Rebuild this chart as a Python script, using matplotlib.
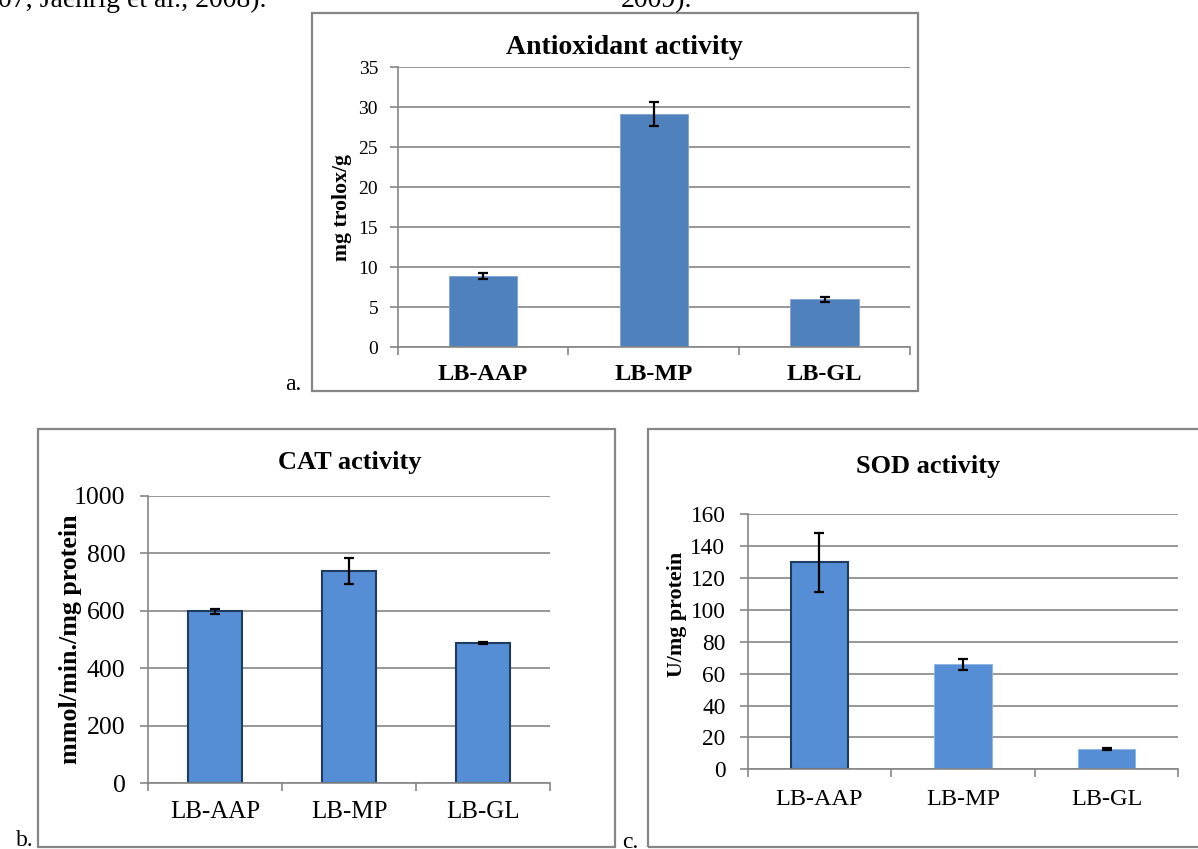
import matplotlib
matplotlib.use('Agg')
import matplotlib.pyplot as plt
from matplotlib.patches import Rectangle

W, H = 1198, 849

categories = ['LB-AAP', 'LB-MP', 'LB-GL']

antiox_values = [8.9, 29.1, 6.0]
antiox_errors = [0.4, 1.5, 0.35]
antiox_ticks = [0, 5, 10, 15, 20, 25, 30, 35]

cat_values = [598, 740, 489]
cat_errors = [10, 45, 4]
cat_ticks = [0, 200, 400, 600, 800, 1000]

sod_values = [130, 66, 12.6]
sod_errors = [18.5, 3.4, 0.7]
sod_ticks = [0, 20, 40, 60, 80, 100, 120, 140, 160]

plt.rcParams['font.family'] = ['Liberation Serif', 'DejaVu Serif']

GRAY = '#868686'

fig = plt.figure(figsize=(W / 100, H / 100), dpi=100)


def px_axes(left, top, right, bottom):
    return fig.add_axes([left / W, 1 - bottom / H, (right - left) / W, (bottom - top) / H])


def box(left, top, right, bottom):
    fig.add_artist(Rectangle((left / W, 1 - bottom / H), (right - left) / W, (bottom - top) / H,
                             transform=fig.transFigure, fill=False, edgecolor=GRAY, linewidth=1.6))


def ftext(x, y, s, **kw):
    fig.text(x / W, 1 - y / H, s, **kw)


def style(ax, ylim, yticks, ytick_fs, xlab_fs, xlab_weight, xpad, ypad):
    ax.set_xlim(-0.5, 2.5)
    ax.set_ylim(*ylim)
    ax.set_yticks(yticks)
    ax.set_xticks(range(len(categories)))
    ax.set_xticklabels(categories, fontsize=xlab_fs, fontweight=xlab_weight)
    ax.set_xticks([-0.5, 0.5, 1.5, 2.5], minor=True)
    ax.tick_params(axis='x', which='major', length=0, pad=xpad)
    ax.tick_params(axis='x', which='minor', length=6, width=1.2, color=GRAY, direction='out')
    ax.tick_params(axis='y', length=6, width=1.2, color=GRAY, labelsize=ytick_fs, pad=ypad)
    for s in ['top', 'right']:
        ax.spines[s].set_visible(False)
    for s in ['left', 'bottom']:
        ax.spines[s].set_color(GRAY)
        ax.spines[s].set_linewidth(1.2)
    ax.grid(axis='y', color=GRAY, linewidth=1.2)
    ax.set_axisbelow(True)
    ax.patch.set_alpha(0)


# ---------------- Panel a ----------------
box(312, 13, 918, 391)
axa = px_axes(397.5, 67.3, 910, 347.3)
axa.bar(range(3), antiox_values, width=0.4, color='#4F81BD', edgecolor='#7FA3D0', linewidth=0.6,
        yerr=antiox_errors, error_kw=dict(ecolor='black', elinewidth=1.6, capsize=3.5, capthick=1.6))
style(axa, (0, 35), antiox_ticks, 14, 17.5, 'bold', 11.8, 8)
axa.set_ylabel('mg trolox/g', fontsize=15.7, fontweight='bold', va='center')
axa.yaxis.set_label_coords((342.5 - 397.5) / (910 - 397.5), 0.5)
ftext(624, 47, 'Antioxidant activity', fontsize=20, fontweight='bold', ha='center', va='center')
ftext(285, 390, 'a.', fontsize=17, ha='left', va='baseline')

# ---------------- Panel b ----------------
box(38, 429.3, 615, 847)
axb = px_axes(147.7, 496, 550.3, 783.3)
axb.bar(range(3), cat_values, width=0.4, color='#558ED5', edgecolor='#1F3B60', linewidth=1.5,
        yerr=cat_errors, error_kw=dict(ecolor='black', elinewidth=1.6, capsize=3.5, capthick=1.6))
style(axb, (0, 1000), cat_ticks, 18.5, 18, 'normal', 12.6, 10)
axb.set_ylabel('mmol/min./mg protein', fontsize=18.7, fontweight='bold', va='center')
axb.yaxis.set_label_coords((70 - 147.7) / (550.3 - 147.7), 0.5)
ftext(350, 462, 'CAT activity', fontsize=19, fontweight='bold', ha='center', va='center')
ftext(16, 846, 'b.', fontsize=17, ha='left', va='baseline')

# ---------------- Panel c ----------------
box(648.3, 429.3, 1210, 847)
axc = px_axes(747.7, 514.3, 1178.3, 769.3)
bars = axc.bar(range(3), sod_values, width=0.4, color='#558ED5', edgecolor='#8DB3E2', linewidth=0.6,
               yerr=sod_errors, error_kw=dict(ecolor='black', elinewidth=1.6, capsize=3.5, capthick=1.6))
bars[0].set_edgecolor('#1F3B60')
bars[0].set_linewidth(1.5)
style(axc, (0, 160), sod_ticks, 16.8, 17.5, 'normal', 14, 10)
axc.set_ylabel('U/mg protein', fontsize=15.8, fontweight='bold', va='center')
axc.yaxis.set_label_coords((677 - 747.7) / (1178.3 - 747.7), (769.3 - 614) / (769.3 - 514.3))
ftext(928, 467, 'SOD activity', fontsize=19, fontweight='bold', ha='center', va='center')
ftext(622, 848, 'c.', fontsize=17, ha='left', va='baseline')

# ---------------- Surrounding text (cut off at top) ----------------
ftext(-2, 7, '07, Jaehrig et al., 2008).', fontsize=20, ha='left', va='baseline')
ftext(621, 7, '2009).', fontsize=20, ha='left', va='baseline')

fig.savefig('out.png', dpi=100)
